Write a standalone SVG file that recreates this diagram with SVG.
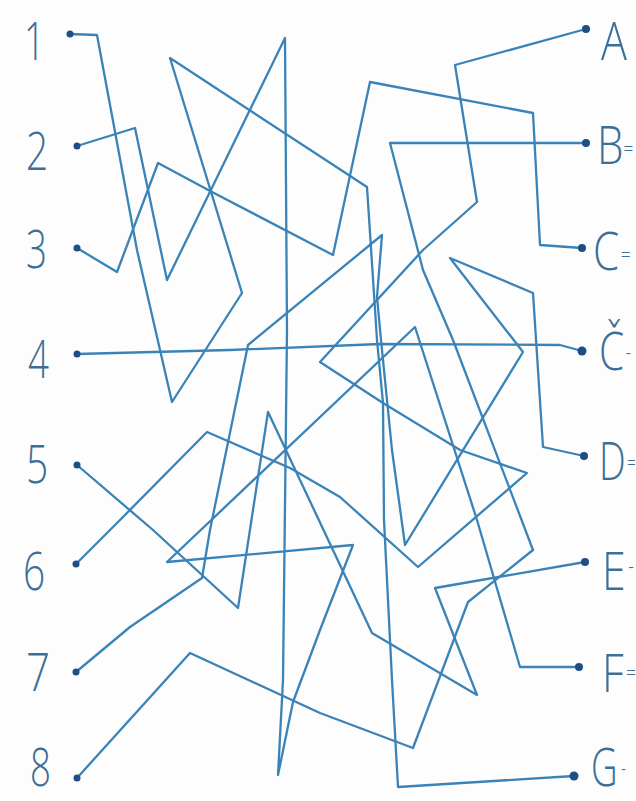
<svg xmlns="http://www.w3.org/2000/svg" width="636" height="801" viewBox="0 0 636 801">
<style>
.bg{fill:#fdfdfd}
.ln{fill:none;stroke:#3a83b8;stroke-width:2.3;stroke-linejoin:round;stroke-linecap:round}
.dot{fill:#1d4f86}
.lbl{font-family:"Open Sans","Liberation Sans",sans-serif;font-weight:300;fill:#3b6f98;font-size:54px}
.sm{font-size:22px}
</style>
<rect class="bg" x="0" y="0" width="636" height="801"/>
<g id="connectors">
<polyline class="ln" points="70,34 97,35 137,250 172,402 242,293 170,58 367,187 377,340 383,403 384,520 392,680 398,787 574,776"/>
<polyline class="ln" points="77,146 135,128 167,280 285,38 287,330 283,680 278,775 293,702 320,630 353,545 167,562 415,327 477,520 520,667 579,667"/>
<polyline class="ln" points="77,248 117,272 158,163 212,192 333,255 370,82 533,113 540,245 582,248"/>
<polyline class="ln" points="77,354 230,350 380,344 560,345 582,351"/>
<polyline class="ln" points="77,465 153,530 238,608 268,412 372,633 477,695 435,588 585,562"/>
<polyline class="ln" points="76,564 120,520 207,432 290,468 340,497 418,567 527,473 460,450 383,403 320,362 423,250 477,202 455,65 586,29"/>
<polyline class="ln" points="76,672 130,627 202,578 210,530 248,345 382,235 377,297 381,340 392,450 405,545 523,352 450,258 533,293 543,447 584,456"/>
<polyline class="ln" points="77,778 190,653 320,713 413,748 468,602 533,550 453,340 423,270 390,143 586,143"/>
</g>
<g id="n1"><circle class="dot" cx="70" cy="34" r="3.5"/><text class="lbl" transform="translate(24,60) scale(0.68,1)">1</text></g>
<g id="n2"><circle class="dot" cx="77" cy="146" r="3.5"/><text class="lbl" transform="translate(26,170) scale(0.72,1)">2</text></g>
<g id="n3"><circle class="dot" cx="77" cy="248" r="3.5"/><text class="lbl" transform="translate(26,268) scale(0.68,1)">3</text></g>
<g id="n4"><circle class="dot" cx="77" cy="354" r="3.5"/><text class="lbl" transform="translate(28,378) scale(0.68,1)">4</text></g>
<g id="n5"><circle class="dot" cx="77" cy="465" r="3.5"/><text class="lbl" transform="translate(26,483) scale(0.72,1)">5</text></g>
<g id="n6"><circle class="dot" cx="76" cy="564" r="3.5"/><text class="lbl" transform="translate(23,590) scale(0.72,1)">6</text></g>
<g id="n7"><circle class="dot" cx="76" cy="672" r="3.5"/><text class="lbl" transform="translate(26,691) scale(0.78,1)">7</text></g>
<g id="n8"><circle class="dot" cx="77" cy="778" r="3.5"/><text class="lbl" transform="translate(30,786) scale(0.68,1)">8</text></g>
<g id="nA"><circle class="dot" cx="586" cy="29" r="4"/><text class="lbl" transform="translate(601,60) scale(0.8,1)">A</text></g>
<g id="nB"><circle class="dot" cx="586" cy="143" r="4"/><text class="lbl" transform="translate(597,164) scale(0.78,1)">B<tspan class="sm" dy="-8">=</tspan></text></g>
<g id="nC"><circle class="dot" cx="582" cy="248" r="4"/><text class="lbl" transform="translate(593,270) scale(0.78,1)">C<tspan class="sm" dx="2" dy="-8">=</tspan></text></g>
<g id="nCc"><circle class="dot" cx="582" cy="351" r="4.5"/><text class="lbl" transform="translate(599,370) scale(0.75,1)">Č<tspan class="sm" dx="2" dy="-10">-</tspan></text></g>
<g id="nD"><circle class="dot" cx="584" cy="456" r="4"/><text class="lbl" transform="translate(599,480) scale(0.7,1)">D<tspan class="sm" dx="2" dy="-10">=</tspan></text></g>
<g id="nE"><circle class="dot" cx="585" cy="562" r="4"/><text class="lbl" transform="translate(602,590) scale(0.8,1)">E<tspan class="sm" dx="3" dy="-16">-</tspan></text></g>
<g id="nF"><circle class="dot" cx="579" cy="667" r="4"/><text class="lbl" transform="translate(602,692) scale(0.8,1)">F<tspan class="sm" dx="3" dy="-12">=</tspan></text></g>
<g id="nG"><circle class="dot" cx="574" cy="776" r="4.5"/><text class="lbl" transform="translate(591,786) scale(0.68,1)">G<tspan class="sm" dx="5" dy="-10">-</tspan></text></g>
</svg>
